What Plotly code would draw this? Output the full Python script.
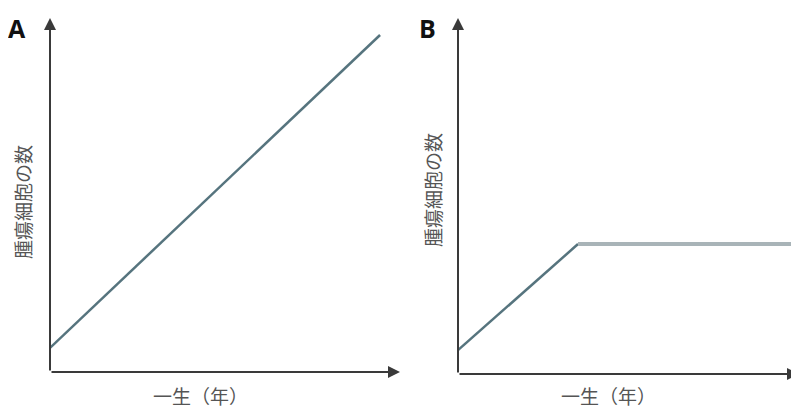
import plotly.graph_objects as go

# page has an 8px body margin, so the figure is placed at (8, 8)
OFF = 8
W, H = 799 - OFF, 408 - OFF

# Panel A data (normalised units)
a_x = [0.0, 0.943]
a_y = [0.068, 0.952]
# Panel B data
b_x = [0.0, 0.352]
b_y = [0.067, 0.365]
b_flat_x = [0.352, 1.0]
b_flat_y = [0.365, 0.365]

panel_labels = ["A", "B"]
y_title = "腫瘍細胞の数"
x_title = "一生（年）"

def px(x):
    return (x - OFF) / W

def py(y):
    return 1 - (y - OFF) / H

fig = go.Figure()
fig.add_trace(go.Scatter(x=a_x, y=a_y, mode="lines", line=dict(color="#56747e", width=2.5),
                         xaxis="x", yaxis="y", hoverinfo="skip"))
fig.add_trace(go.Scatter(x=b_x, y=b_y, mode="lines", line=dict(color="#56747e", width=2.5),
                         xaxis="x2", yaxis="y2", hoverinfo="skip"))
fig.add_trace(go.Scatter(x=b_flat_x, y=b_flat_y, mode="lines", line=dict(color="#a9b4b8", width=4),
                         xaxis="x2", yaxis="y2", hoverinfo="skip"))

ann = []
axcol = "#3a3a3a"
for xr, yr, xmax in (("x", "y", 1.0), ("x2", "y2", 1.0)):
    ann.append(dict(x=0, y=1, ax=0, ay=0, xref=xr, yref=yr, axref=xr, ayref=yr,
                    showarrow=True, arrowhead=2, arrowsize=1.2, arrowwidth=2, arrowcolor=axcol, text=""))
    ann.append(dict(x=xmax, y=0, ax=0, ay=0, xref=xr, yref=yr, axref=xr, ayref=yr,
                    showarrow=True, arrowhead=2, arrowsize=1.2, arrowwidth=2, arrowcolor=axcol, text=""))

def txt(x, y, text, font, angle=0):
    return dict(x=px(x), y=py(y), xref="paper", yref="paper", text=text, textangle=angle,
                xanchor="center", yanchor="middle", showarrow=False, font=font)

lab_font = dict(family="Open Sans, Liberation Sans, sans-serif", size=25, color="#111111")
ann.append(txt(17, 28, "<b>%s</b>" % panel_labels[0], lab_font))
ann.append(txt(427, 28, "<b>%s</b>" % panel_labels[1], lab_font))

cjk = dict(family="Noto Sans CJK JP", size=19, color="#555555")
ann.append(txt(22, 202, y_title, cjk, -90))
ann.append(txt(432, 190, y_title, cjk, -90))
ann.append(txt(200, 395, x_title, cjk))
ann.append(txt(608, 395, x_title, cjk))

hid = dict(visible=False, fixedrange=True)
fig.update_layout(
    width=W, height=H, margin=dict(l=0, r=0, t=0, b=0),
    paper_bgcolor="white", plot_bgcolor="rgba(0,0,0,0)", showlegend=False,
    xaxis=dict(domain=[px(50), px(400)], range=[0, 1], **hid),
    yaxis=dict(domain=[py(372), py(18)], range=[0, 1], **hid),
    xaxis2=dict(domain=[px(458), 1.0], range=[0, 1], anchor="y2", **hid),
    yaxis2=dict(domain=[py(374), py(18)], range=[0, 1], anchor="x2", **hid),
    annotations=ann,
)
fig.write_html("out.html")
